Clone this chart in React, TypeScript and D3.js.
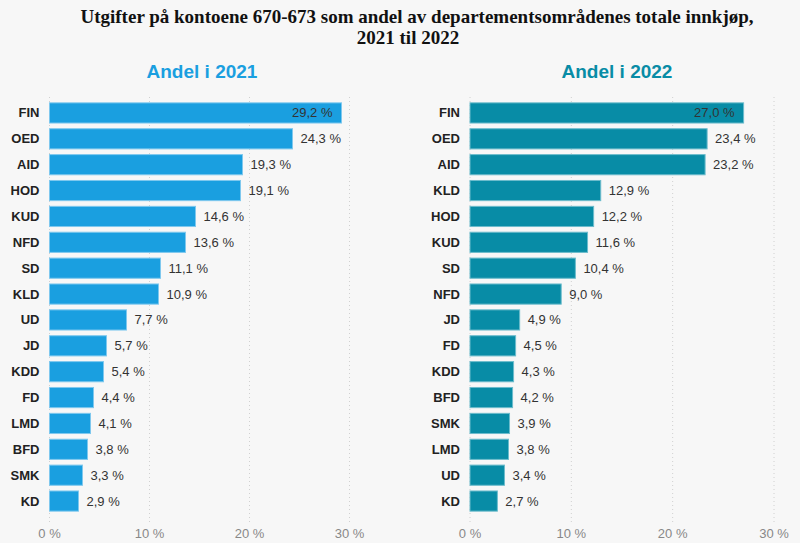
import React from "react";
import * as d3 from "d3";

const categories2021 = ["FIN", "OED", "AID", "HOD", "KUD", "NFD", "SD", "KLD", "UD", "JD", "KDD", "FD", "LMD", "BFD", "SMK", "KD"];
const values2021 = [29.2, 24.3, 19.3, 19.1, 14.6, 13.6, 11.1, 10.9, 7.7, 5.7, 5.4, 4.4, 4.1, 3.8, 3.3, 2.9];

const categories2022 = ["FIN", "OED", "AID", "KLD", "HOD", "KUD", "SD", "NFD", "JD", "FD", "KDD", "BFD", "SMK", "LMD", "UD", "KD"];
const values2022 = [27.0, 23.4, 23.2, 12.9, 12.2, 11.6, 10.4, 9.0, 4.9, 4.5, 4.3, 4.2, 3.9, 3.8, 3.4, 2.7];

const xTicks = [0, 10, 20, 30];

const W = 800;
const H = 543;
const sans = "'Liberation Sans', Arial, sans-serif";
const serif = "'Liberation Serif', 'Times New Roman', serif";
const fmt = (v: number) => v.toFixed(1).replace(".", ",") + " %";

type PanelProps = {
  title: string;
  cats: string[];
  vals: number[];
  x0: number;
  x30: number;
  color: string;
  stroke: string;
  titleX: number;
};

function Panel({ title, cats, vals, x0, x30, color, stroke, titleX }: PanelProps) {
  const x = d3.scaleLinear().domain([0, 30]).range([x0, x30]);
  const y = d3.scaleBand<string>().domain(cats).range([100, 514]).paddingInner(0.22).paddingOuter(0.11);
  return (
    <g>
      <text x={titleX} y={78} textAnchor="middle" fontFamily={sans} fontWeight="bold" fontSize={19} fill={color}>
        {title}
      </text>
      {xTicks.map((t) => (
        <g key={t}>
          <line x1={x(t)} x2={x(t)} y1={97} y2={522} stroke="#d0d0d0" strokeWidth={1} strokeDasharray="1,3" />
          <text x={x(t)} y={538} textAnchor="middle" fontFamily={sans} fontSize={13} fill="#888">
            {t + " %"}
          </text>
        </g>
      ))}
      {cats.map((c, i) => {
        const v = vals[i];
        const yy = y(c)!;
        const bw = y.bandwidth();
        const inside = v > 25;
        return (
          <g key={c}>
            <rect x={x(0)} y={yy} width={x(v) - x(0)} height={bw} fill={color} stroke={stroke} strokeWidth={1} />
            <text x={x0 - 10} y={yy + bw / 2} dy="0.35em" textAnchor="end" fontFamily={sans} fontWeight="bold" fontSize={13} fill="#222">
              {c}
            </text>
            <text
              x={inside ? x(v) - 9 : x(v) + 8}
              y={yy + bw / 2}
              dy="0.35em"
              textAnchor={inside ? "end" : "start"}
              fontFamily={sans}
              fontSize={13}
              fill="#333"
            >
              {fmt(v)}
            </text>
          </g>
        );
      })}
    </g>
  );
}

export default function App() {
  return (
    <svg width={W} height={H} style={{ position: "absolute", left: 0, top: 0, background: "#f7f7f7" }}>
      <rect width={W} height={H} fill="#f7f7f7" />
      <text x={417} y={23} textAnchor="middle" fontFamily={serif} fontWeight="bold" fontSize={19} fill="#111">
        Utgifter på kontoene 670-673 som andel av departementsområdenes totale innkjøp,
      </text>
      <text x={408} y={44} textAnchor="middle" fontFamily={serif} fontWeight="bold" fontSize={19} fill="#111">
        2021 til 2022
      </text>
      <Panel title="Andel i 2021" cats={categories2021} vals={values2021} x0={49.5} x30={349.5} color="#1a9fe0" stroke="#7fc8ee" titleX={202} />
      <Panel title="Andel i 2022" cats={categories2022} vals={values2022} x0={470} x30={774} color="#088ca6" stroke="#6cbccc" titleX={617} />
    </svg>
  );
}
